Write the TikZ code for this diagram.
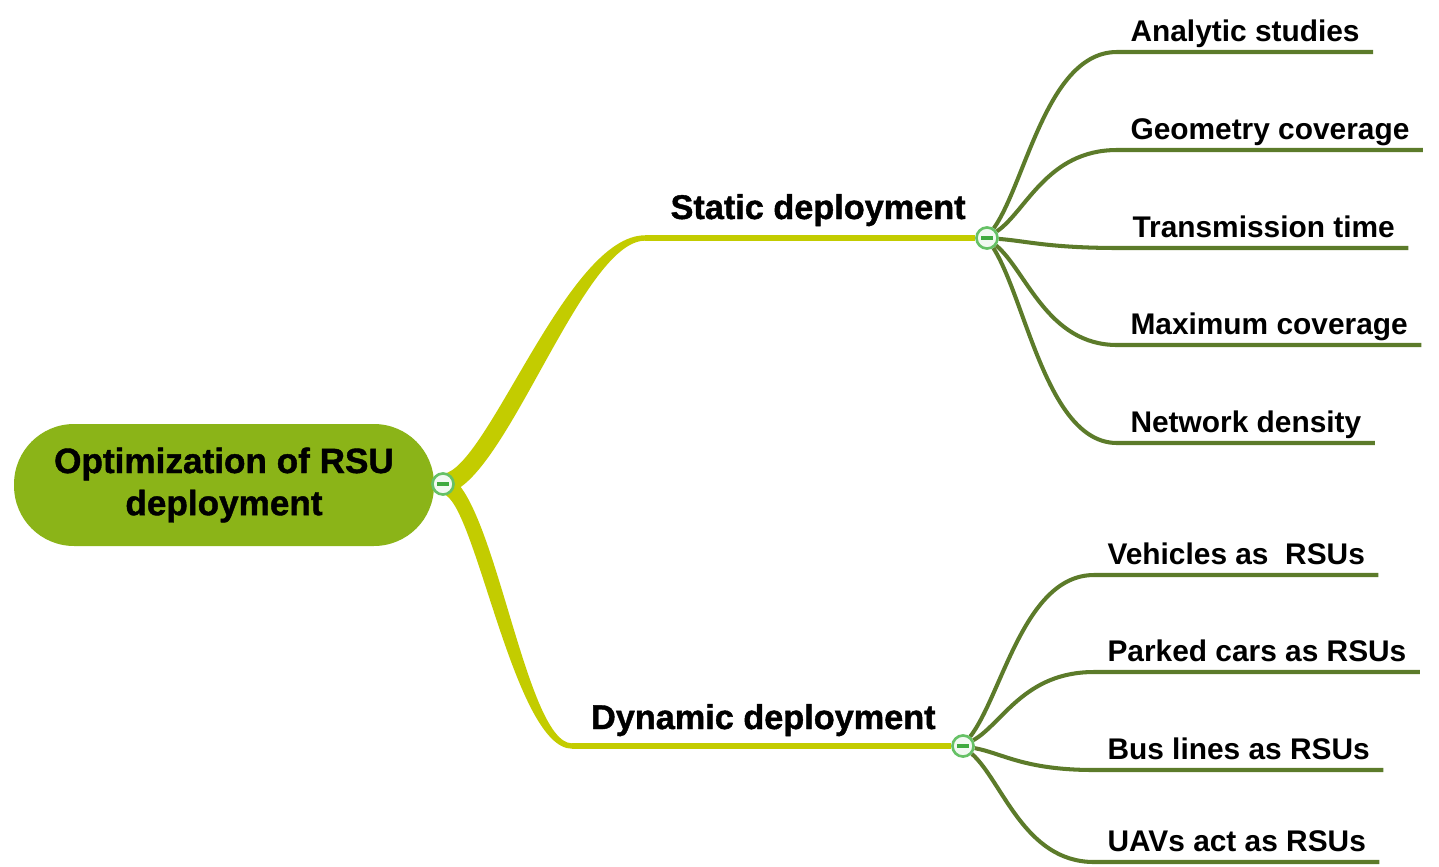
\documentclass[tikz,border=0pt]{standalone}
\usepackage{fontspec}
\setmainfont{Liberation Sans}
\newfontfamily\heavyfont{Liberation Sans}[BoldFeatures={FakeBold=1.2}]
\usetikzlibrary{calc,backgrounds}
\definecolor{rootgreen}{HTML}{8BB418}
\definecolor{trunkyellow}{HTML}{C3CC00}
\definecolor{leafgreen}{HTML}{5C7B2A}
\definecolor{toggleedge}{HTML}{66C166}
\definecolor{togglebar}{HTML}{3FAA3F}
\definecolor{togglefill}{HTML}{F2F9F2}
\begin{document}
\begin{tikzpicture}[x=0.02cm,y=-0.02cm,
  rootnode/.style={fill=rootgreen,rounded corners=1.2cm,minimum width=8.4cm,
    minimum height=2.44cm,align=center,font=\fontsize{20}{24}\heavyfont\bfseries},
  branchlabel/.style={inner sep=0pt,font=\fontsize{19.5}{23}\heavyfont\bfseries},
  leaf/.style={anchor=south west,inner xsep=7.5pt,inner ysep=3.5pt,text height=0.72em,
    text depth=0.22em,font=\fontsize{17}{20}\selectfont\bfseries},
  toggle/.style={circle,draw=toggleedge,line width=1.5pt,fill=togglefill,
    minimum size=12pt,inner sep=0pt,
    path picture={\fill[togglebar] ($(path picture bounding box.center)+(-3.4pt,-1.1pt)$)
      rectangle ++(6.8pt,2.2pt);}},
  trunk/.style={fill=trunkyellow},
  trunkline/.style={draw=trunkyellow,line width=3pt},
  leafline/.style={draw=leafgreen,line width=2.3pt}]
  \useasboundingbox (0,0) rectangle (1439,866);

  \node[rootnode] (root) at (224,485) {Optimization of RSU\\deployment};
  \node[toggle] (rtog) at (443,484) {};

  \node[branchlabel,anchor=base east] (static) at (966,219) {Static deployment};
  \node[toggle] (stog) at (987,238) {};
  \coordinate (sbend) at (645,238);

  \node[branchlabel,anchor=base east] (dynamic) at (936,729) {Dynamic deployment};
  \node[toggle] (dtog) at (963,746) {};
  \coordinate (dbend) at (572,746);

  \node[leaf] (analytic) at (1117,52) {Analytic studies};
  \node[leaf] (geometry) at (1117,150) {Geometry coverage};
  \node[leaf] (transmission) at (1119,248) {Transmission time};
  \node[leaf] (maximum) at (1117,345) {Maximum coverage};
  \node[leaf] (density) at (1117,443) {Network density};

  \node[leaf] (vehicles) at (1094,575) {Vehicles as~ RSUs};
  \node[leaf] (parked) at (1094,672) {Parked cars as RSUs};
  \node[leaf] (buslines) at (1094,770) {Bus lines as RSUs};
  \node[leaf] (uavs) at (1094,862) {UAVs act as RSUs};

  \begin{scope}[on background layer]
    \path[trunk] ($(rtog)+(0,-10)$) .. controls ($(rtog)+(45,-16)$) and ($(sbend)+(-78,-2.7)$)
      .. ($(sbend)+(0,-2.7)$) -- ($(sbend)+(0,2.7)$)
      .. controls ($(sbend)+(-64,2.7)$) and ($(rtog)+(60,8)$) .. ($(rtog)+(0,10)$) -- cycle;
    \path[trunkline] (sbend) -- (stog);
    \path[trunk] ($(rtog)+(0,-10)$) .. controls ($(rtog)+(50,-4)$) and ($(dbend)+(-48,-2.7)$)
      .. ($(dbend)+(0,-2.7)$) -- ($(dbend)+(0,2.7)$)
      .. controls ($(dbend)+(-58,2.7)$) and ($(rtog)+(32,16)$) .. ($(rtog)+(0,10)$) -- cycle;
    \path[trunkline] (dbend) -- (dtog);

    \path[leafline] (stog) .. controls ($(stog)!0.3!(analytic.south west)$)
      and ($(analytic.south west)+(-70,0)$) .. (analytic.south west) -- (analytic.south east);
    \path[leafline] (stog) .. controls ($(stog)!0.3!(geometry.south west)$)
      and ($(geometry.south west)+(-70,0)$) .. (geometry.south west) -- (geometry.south east);
    \path[leafline] (stog) .. controls ($(stog)!0.3!(transmission.south west)$)
      and ($(transmission.south west)+(-70,0)$) .. (transmission.south west) -- (transmission.south east);
    \path[leafline] (stog) .. controls ($(stog)!0.3!(maximum.south west)$)
      and ($(maximum.south west)+(-70,0)$) .. (maximum.south west) -- (maximum.south east);
    \path[leafline] (stog) .. controls ($(stog)!0.3!(density.south west)$)
      and ($(density.south west)+(-70,0)$) .. (density.south west) -- (density.south east);

    \path[leafline] (dtog) .. controls ($(dtog)!0.3!(vehicles.south west)$)
      and ($(vehicles.south west)+(-70,0)$) .. (vehicles.south west) -- (vehicles.south east);
    \path[leafline] (dtog) .. controls ($(dtog)!0.3!(parked.south west)$)
      and ($(parked.south west)+(-70,0)$) .. (parked.south west) -- (parked.south east);
    \path[leafline] (dtog) .. controls ($(dtog)!0.3!(buslines.south west)$)
      and ($(buslines.south west)+(-70,0)$) .. (buslines.south west) -- (buslines.south east);
    \path[leafline] (dtog) .. controls ($(dtog)!0.3!(uavs.south west)$)
      and ($(uavs.south west)+(-70,0)$) .. (uavs.south west) -- (uavs.south east);
  \end{scope}
\end{tikzpicture}
\end{document}
